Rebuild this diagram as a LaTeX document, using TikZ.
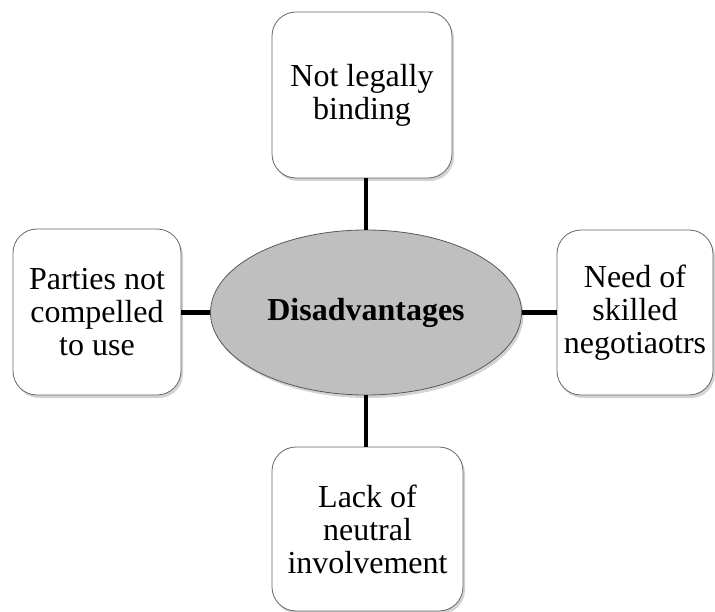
\documentclass[tikz,border=0pt]{standalone}
\usepackage{fontspec}
\setmainfont{Liberation Serif}
\usetikzlibrary{shadows,shapes.geometric}
\tikzset{
  box/.style={draw=gray!80!black, line width=0.8pt, fill=white, rounded corners=24pt,
    align=center, inner sep=0pt,
    font=\fontsize{32}{33}\selectfont,
    drop shadow={shadow xshift=2pt, shadow yshift=-3pt, opacity=0.35, fill=gray}},
  hub/.style={ellipse, draw=gray!70!black, line width=0.8pt, fill=gray!50, inner sep=0pt,
    font=\fontsize{32}{34}\selectfont\bfseries,
    drop shadow={shadow xshift=2pt, shadow yshift=-3pt, opacity=0.35, fill=gray}},
  link/.style={line width=4.2pt, black}
}
\begin{document}
\begin{tikzpicture}[x=1pt,y=-1pt]
\useasboundingbox (0,0) rectangle (715,612);
\node[hub, minimum width=311pt, minimum height=165pt] (ell) at (366,312.5) {Disadvantages};
\node[box, minimum width=180pt, minimum height=166pt] (top) at (362,95) {Not legally\\binding};
\node[box, minimum width=168pt, minimum height=166pt] (left) at (97,312) {Parties not\\compelled\\to use};
\node[box, minimum width=156pt, minimum height=165pt] (right) at (635,312.5) {Need of\\skilled\\negotiaotrs};
\node[box, minimum width=191pt, minimum height=164pt] (bot) at (367.5,529) {Lack of\\neutral\\involvement};
\draw[link] (ell.north) -- (ell.north |- top.south);
\draw[link] (ell.south) -- (ell.south |- bot.north);
\draw[link] (ell.west) -- (left.east |- ell.west);
\draw[link] (ell.east) -- (right.west |- ell.east);
\end{tikzpicture}
\end{document}
